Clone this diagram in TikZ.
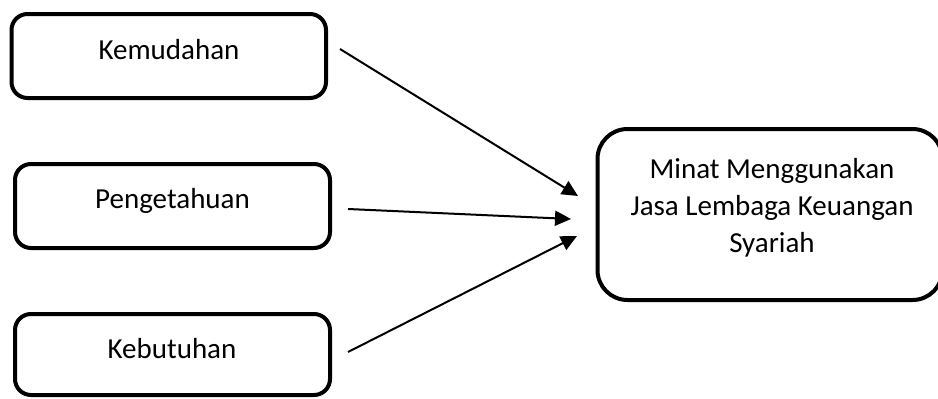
\documentclass[tikz,border=0pt]{standalone}
\usepackage{fontspec}
\setmainfont{Carlito}
\usetikzlibrary{arrows.meta}
\begin{document}
\begin{tikzpicture}[x=1pt,y=-1pt,
  box/.style={draw, line width=4pt, rounded corners=16pt, inner sep=0pt},
  lbl/.style={anchor=base, inner sep=0pt, font=\fontsize{29}{35}\selectfont},
  link/.style={line width=2pt, -{Triangle[length=16pt,width=15pt]}}]
\useasboundingbox (0,0) rectangle (938,399);
\clip (0,0) rectangle (938,399);

% factor boxes
\node[box, minimum width=314.5pt, minimum height=84pt] (kem) at (168.75,56) {};
\node[box, minimum width=315pt, minimum height=84pt] (pen) at (172.5,206) {};
\node[box, minimum width=315pt, minimum height=81pt] (keb) at (172.5,354.5) {};
% outcome box
\node[box, rounded corners=30pt, minimum width=345pt, minimum height=171pt] (minat) at (770,214.5) {};

% labels
\node[lbl] (tkem) at (169,59) {Kemudahan};
\node[lbl] (tpen) at (172.5,208) {Pengetahuan};
\node[lbl] (tkeb) at (172,358) {Kebutuhan};
\node[lbl] (tm1) at (772,178) {Minat Menggunakan};
\node[lbl] (tm2) at (772,215) {Jasa Lembaga Keuangan};
\node[lbl] (tm3) at (772,252) {Syariah};

% arrows
\coordinate (s1) at (340,49);
\coordinate (t1) at (578,196);
\coordinate (s2) at (348,209);
\coordinate (t2) at (571,219);
\coordinate (s3) at (348,352);
\coordinate (t3) at (577,236);
\draw[link] (s1) -- (t1);
\draw[link] (s2) -- (t2);
\draw[link] (s3) -- (t3);
\end{tikzpicture}
\end{document}
